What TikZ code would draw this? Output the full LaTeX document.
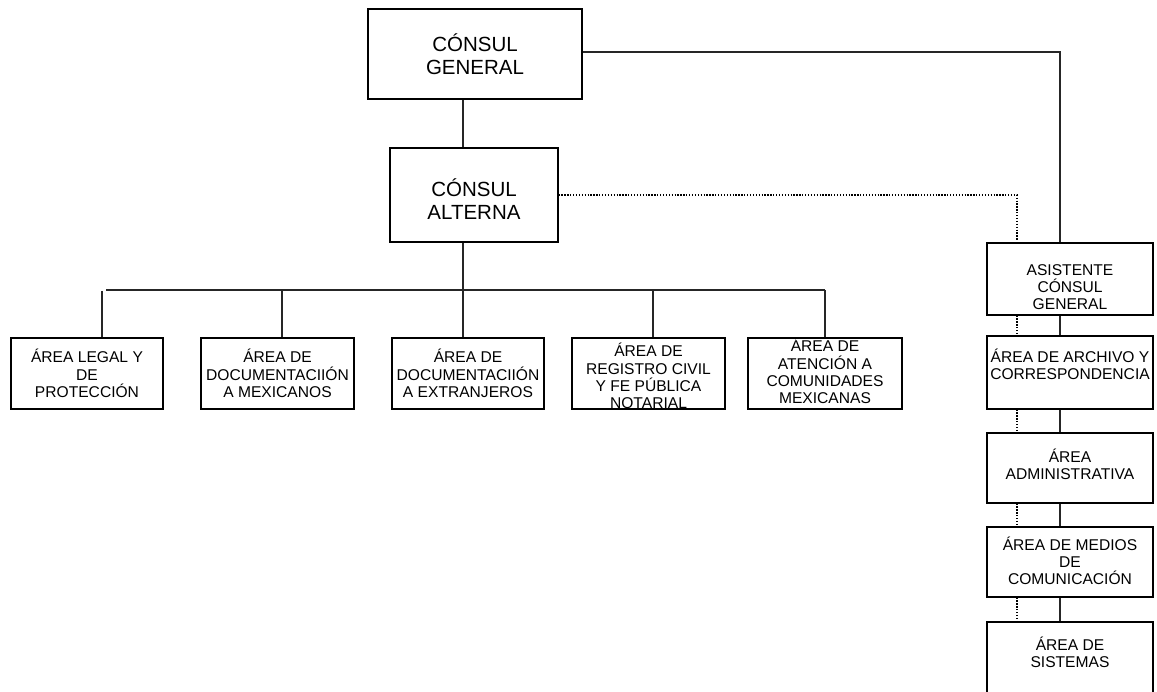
\documentclass[tikz,border=0pt]{standalone}
\usepackage{fontspec}
\setmainfont{Liberation Sans}
\begin{document}
\begin{tikzpicture}[x=1pt,y=-1pt,
  box/.style={draw=black, line width=1.1pt, inner sep=0pt, fill=white},
  sm/.style={align=center, inner sep=0pt, font=\fontsize{15.6}{17.2}\selectfont},
  bg/.style={align=center, inner sep=0pt, font=\fontsize{20.5}{23}\selectfont},
  conn/.style={draw=black!85, line width=1.1pt},
  dotl/.style={draw=black, line width=1.4pt, dash pattern=on 1.3pt off 1.6pt}]
\useasboundingbox (0,0) rectangle (1157,692);
% top
\node[box, minimum width=214pt, minimum height=90pt] (cg) at (475,54) {};
\node[bg] (cgt) at (475,54) {CÓNSUL\\GENERAL};
\node[box, minimum width=168pt, minimum height=94pt] (ca) at (474,195) {};
\node[bg] (cat) at (474,199) {CÓNSUL\\ALTERNA};
% bottom row
\node[box, minimum width=152pt, minimum height=71pt] (b1) at (87,373.5) {};
\node[sm] (b1t) at (b1.center) {ÁREA LEGAL Y\\DE\\PROTECCIÓN};
\node[box, minimum width=153pt, minimum height=71pt] (b2) at (277.5,373.5) {};
\node[sm] (b2t) at (b2.center) {ÁREA DE\\DOCUMENTACIIÓN\\A MEXICANOS};
\node[box, minimum width=152pt, minimum height=71pt] (b3) at (468,373.5) {};
\node[sm] (b3t) at (b3.center) {ÁREA DE\\DOCUMENTACIIÓN\\A EXTRANJEROS};
\node[box, minimum width=153pt, minimum height=71pt] (b4) at (648.5,373.5) {};
\node[sm] (b4t) at (648.5,376) {ÁREA DE\\REGISTRO CIVIL\\Y FE PÚBLICA\\NOTARIAL};
\node[box, minimum width=154pt, minimum height=71pt] (b5) at (825,373.5) {};
\node[sm] (b5t) at (825,371) {ÁREA DE\\ATENCIÓN A\\COMUNIDADES\\MEXICANAS};
% right column
\node[box, minimum width=166pt, minimum height=72pt] (r1) at (1070,279) {};
\node[sm] (r1t) at (1070,287) {ASISTENTE\\CÓNSUL\\GENERAL};
\node[box, minimum width=166pt, minimum height=73pt] (r2) at (1070,372.5) {};
\node[sm] (r2t) at (1070,364) {ÁREA DE ARCHIVO Y\\CORRESPONDENCIA};
\node[box, minimum width=166pt, minimum height=70pt] (r3) at (1070,468) {};
\node[sm] (r3t) at (1070,464) {ÁREA\\ADMINISTRATIVA};
\node[box, minimum width=166pt, minimum height=70pt] (r4) at (1070,562) {};
\node[sm] (r4t) at (1070,561) {ÁREA DE MEDIOS\\DE\\COMUNICACIÓN};
\node[box, minimum width=166pt, minimum height=76pt] (r5) at (1070,660) {};
\node[sm] (r5t) at (1070,652) {ÁREA DE\\SISTEMAS};
% coordinates
\coordinate (bus) at (463,290);
\coordinate (busL) at (106,290);
\coordinate (busR) at (825,290);
\coordinate (v1) at (102,291);
\coordinate (v2) at (282,290);
\coordinate (v4) at (653,290);
\coordinate (k1) at (1060,52);
\coordinate (d1) at (1017,195);
\coordinate (d2) at (1017,240);
% solid connectors
\draw[conn] (cg.south -| bus) -- (ca.north -| bus);
\draw[conn] (ca.south -| bus) -- (bus);
\draw[conn] (busL) -- (busR);
\draw[conn] (v1) -- (v1 |- b1.north);
\draw[conn] (v2) -- (v2 |- b2.north);
\draw[conn] (bus) -- (bus |- b3.north);
\draw[conn] (v4) -- (v4 |- b4.north);
\draw[conn] (busR) -- (b5.north);
\draw[conn] (cg.east |- k1) -- (k1) -- (k1 |- r1.north);
\draw[conn] (r1.south -| k1) -- (r2.north -| k1);
\draw[conn] (r2.south -| k1) -- (r3.north -| k1);
\draw[conn] (r3.south -| k1) -- (r4.north -| k1);
\draw[conn] (r4.south -| k1) -- (r5.north -| k1);
% dotted connectors
\draw[dotl] (ca.east) -- (d1) -- (d2);
\draw[dotl] (r1.south -| d1) -- (r2.north -| d1);
\draw[dotl] (r2.south -| d1) -- (r3.north -| d1);
\draw[dotl] (r3.south -| d1) -- (r4.north -| d1);
\draw[dotl] (r4.south -| d1) -- (r5.north -| d1);
\end{tikzpicture}
\end{document}
